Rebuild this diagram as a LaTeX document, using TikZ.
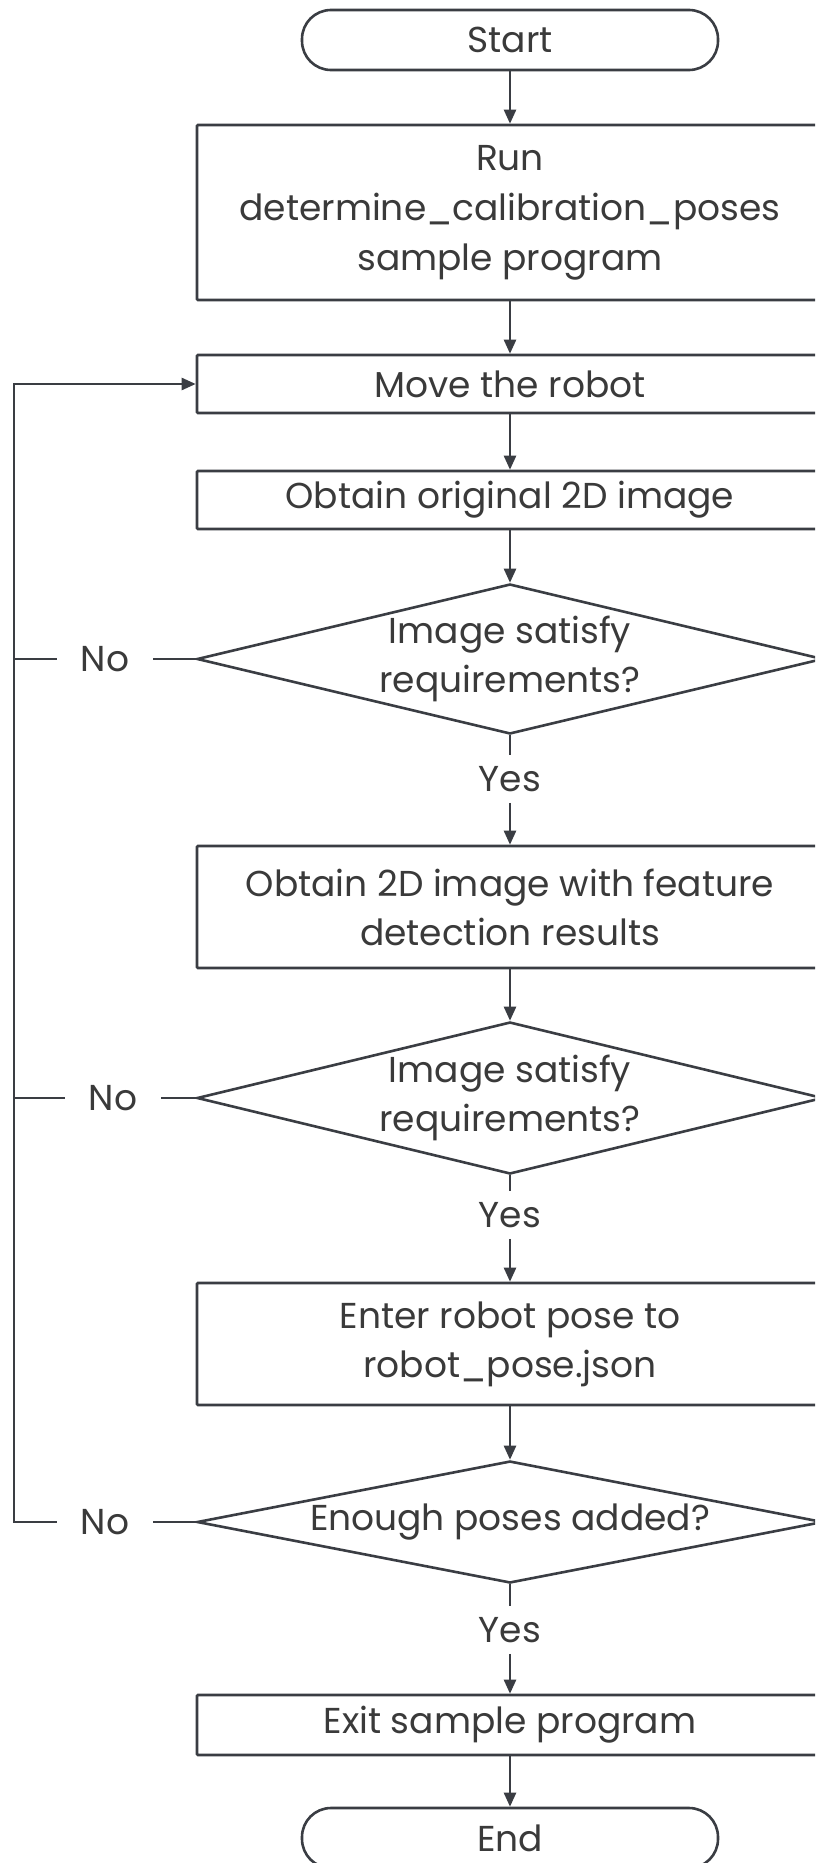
\documentclass[tikz,border=0pt]{standalone}
\usepackage{fontspec}
\setmainfont{Poppins}
\usetikzlibrary{shapes.geometric,arrows.meta}
\definecolor{ln}{HTML}{3A3D43}
\definecolor{tx}{HTML}{3A3A3A}
\begin{document}
\begin{tikzpicture}[x=1pt,y=-1pt,
  every node/.style={font=\fontsize{36}{49}\selectfont, text=tx},
  proc/.style={draw=ln, line width=2.6pt, minimum width=626pt, inner sep=0pt, align=center, rounded corners=1pt},
  term/.style={draw=ln, line width=2.6pt, minimum width=416pt, minimum height=60pt, rounded corners=29pt, inner sep=0pt},
  dec/.style={diamond, draw=ln, line width=2.6pt, minimum width=626pt, inner sep=0pt, align=center},
  ylbl/.style={inner xsep=0pt, inner ysep=11pt},
  nlbl/.style={inner xsep=24pt, inner ysep=0pt},
  flow/.style={draw=ln, line width=2.4pt, -{Triangle[length=14pt,width=12pt]}},
  seg/.style={draw=ln, line width=2.4pt}
]
\useasboundingbox (0,0) rectangle (815,1863);
\clip (0,0) rectangle (815,1863);
\fill[white] (0,0) rectangle (815,1863);

\node[term] (start) at (510,40) {Start};
\node[proc, minimum height=175pt] (run) at (510,212.5) {Run\\[1pt]determine\_calibration\_poses\\[1pt]sample program};
\node[proc, minimum height=58pt] (move) at (510,384) {Move the robot};
\node[proc, minimum height=58pt] (obt) at (510,500) {Obtain original 2D image};
\node[dec, minimum height=150pt, aspect=4.17] (d1) at (510,659) {Image satisfy\\requirements?};
\node[ylbl] (y1) at (510,779) {Yes};
\node[proc, minimum height=122pt] (feat) at (510,907) {Obtain 2D image with feature\\detection results};
\node[dec, minimum height=152pt, aspect=4.12] (d2) at (510,1098) {Image satisfy\\requirements?};
\node[ylbl] (y2) at (510,1215) {Yes};
\node[proc, minimum height=122pt] (enter) at (510,1344) {Enter robot pose to\\robot\_pose.json};
\node[dec, minimum height=122pt, aspect=5.13] (d3) at (510,1522) {Enough poses added?};
\node[ylbl] (y3) at (510,1630) {Yes};
\node[proc, minimum height=60pt] (exit) at (510,1725) {Exit sample program};
\node[term] (end) at (510,1838) {End};

\node[nlbl] (n1) at (105,659) {No};
\node[nlbl] (n2) at (113,1098) {No};
\node[nlbl] (n3) at (105,1522) {No};

\coordinate (lb) at (14,1522);
\coordinate (lt) at (14,384);

\draw[flow] (start) -- (run);
\draw[flow] (run) -- (move);
\draw[flow] (move) -- (obt);
\draw[flow] (obt) -- (d1);
\draw[seg] (d1) -- (y1);
\draw[flow] (y1) -- (feat);
\draw[flow] (feat) -- (d2);
\draw[seg] (d2) -- (y2);
\draw[flow] (y2) -- (enter);
\draw[flow] (enter) -- (d3);
\draw[seg] (d3) -- (y3);
\draw[flow] (y3) -- (exit);
\draw[flow] (exit) -- (end);

\draw[seg] (d1.west) -- (n1.east);
\draw[seg] (d2.west) -- (n2.east);
\draw[seg] (d3.west) -- (n3.east);
\draw[seg] (n1.west) -- (n1.west -| lb);
\draw[seg] (n2.west) -- (n2.west -| lb);
\draw[flow] (n3.west) -- (lb) -- (lt) -- (move.west);
\end{tikzpicture}
\end{document}
